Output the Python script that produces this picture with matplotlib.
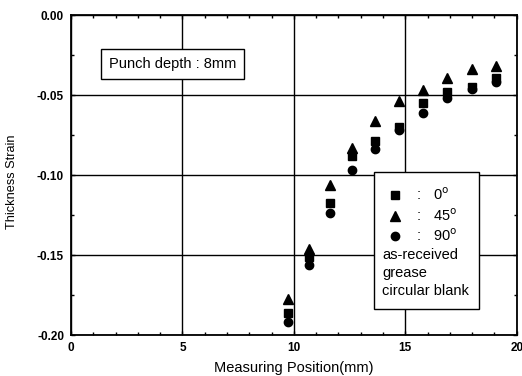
import matplotlib
matplotlib.use("Agg")
import matplotlib.pyplot as plt
from matplotlib.patches import Rectangle
from matplotlib.ticker import MultipleLocator, FormatStrFormatter

plt.rcParams['font.family'] = ['Liberation Sans', 'DejaVu Sans']

# Data
positions = [9.75, 10.67, 11.61, 12.59, 13.66, 14.72, 15.80, 16.89, 17.97, 19.06]
strain_0 = [-0.186, -0.151, -0.1175, -0.088, -0.079, -0.070, -0.055, -0.048, -0.045, -0.0396]
strain_45 = [-0.1775, -0.146, -0.106, -0.083, -0.066, -0.0535, -0.047, -0.0396, -0.034, -0.032]
strain_90 = [-0.192, -0.156, -0.124, -0.097, -0.084, -0.072, -0.061, -0.052, -0.046, -0.042]
angle_labels = ["0", "45", "90"]
note_lines = ["as-received", "grease", "circular blank"]

fig = plt.figure(figsize=(5.22, 3.76), dpi=100)
ax = fig.add_axes([0.136, 0.109, 0.854, 0.851])

ax.set_xlim(0, 20)
ax.set_ylim(-0.20, 0.0)
ax.xaxis.set_major_locator(MultipleLocator(5))
ax.xaxis.set_minor_locator(MultipleLocator(1))
ax.yaxis.set_major_locator(MultipleLocator(0.05))
ax.yaxis.set_minor_locator(MultipleLocator(0.025))
ax.grid(True, which='major', color='black', linewidth=1.0)
ax.set_axisbelow(True)
ax.tick_params(which='both', direction='in', top=True, right=True, width=1.0, color='black')
ax.tick_params(which='major', length=3, labelsize=8.5, pad=5)
ax.tick_params(which='minor', length=2)
ax.yaxis.set_major_formatter(FormatStrFormatter('%.2f'))
ax.xaxis.set_major_formatter(FormatStrFormatter('%d'))
for lab in ax.get_xticklabels() + ax.get_yticklabels():
    lab.set_fontweight('bold')
for sp in ax.spines.values():
    sp.set_linewidth(1.3)
    sp.set_color('black')

sq_ms, tri_ms, cir_ms = 5.5, 6.5, 6
ax.plot(positions, strain_0, linestyle='none', marker='s', color='black', markersize=sq_ms, zorder=3)
ax.plot(positions, strain_45, linestyle='none', marker='^', color='black', markersize=tri_ms, zorder=3)
ax.plot(positions, strain_90, linestyle='none', marker='o', color='black', markersize=cir_ms, zorder=3)

ax.set_xlabel("Measuring Position(mm)", fontsize=10.5, va='center')
ax.xaxis.set_label_coords(0.5, -0.103)
ax.set_ylabel("Thickness Strain", fontsize=9.2, va='center')
ax.yaxis.set_label_coords(-0.132, 0.48)

# Punch depth box
ax.text(0.228, 0.847, "Punch depth : 8mm", transform=ax.transAxes, fontsize=10.5,
        ha='center', va='center',
        bbox=dict(boxstyle='square,pad=0.55', facecolor='white', edgecolor='black', linewidth=1.0),
        zorder=4)

# Legend box
rect = Rectangle((0.68, 0.08), 0.235, 0.43, transform=ax.transAxes, facecolor='white',
                 edgecolor='black', linewidth=1.0, zorder=4)
ax.add_patch(rect)
markers = [('s', sq_ms), ('^', tri_ms), ('o', cir_ms)]
rows_y = [0.4375, 0.373, 0.309]
for (mk, size), yy, lab in zip(markers, rows_y, angle_labels):
    ax.plot([0.726], [yy], marker=mk, color='black', markersize=size, transform=ax.transAxes,
            linestyle='none', zorder=5, clip_on=False)
    ax.text(0.78, yy, ":", transform=ax.transAxes, fontsize=10.5, ha='center', va='center', zorder=5)
    ax.text(0.812, yy, lab + r"$^{\mathrm{o}}$", transform=ax.transAxes, fontsize=10.5,
            ha='left', va='center', zorder=5)
for yy, txt in zip([0.25, 0.194, 0.1375], note_lines):
    ax.text(0.698, yy, txt, transform=ax.transAxes, fontsize=10.5, ha='left', va='center', zorder=5)

fig.savefig("out.png", dpi=100)
